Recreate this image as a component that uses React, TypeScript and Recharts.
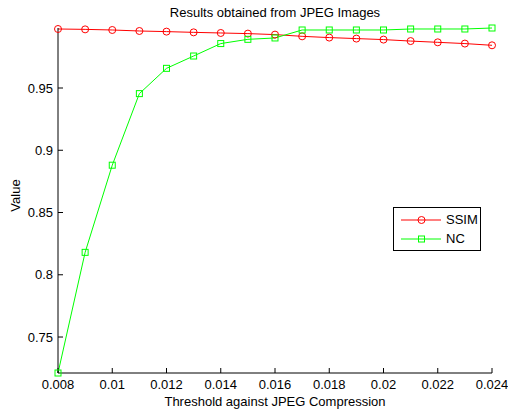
import * as React from 'react';
import { LineChart, Line, XAxis, YAxis } from 'recharts';

const thresholds = [0.008, 0.009, 0.01, 0.011, 0.012, 0.013, 0.014, 0.015, 0.016, 0.017, 0.018, 0.019, 0.02, 0.021, 0.022, 0.023, 0.024];
const ssimValues = [0.9974, 0.9971, 0.9966, 0.9958, 0.9953, 0.9947, 0.9942, 0.9937, 0.9929, 0.9915, 0.9905, 0.9897, 0.9889, 0.9877, 0.9867, 0.9857, 0.9843];
const ncValues = [0.7211, 0.818, 0.888, 0.9455, 0.9658, 0.9757, 0.9857, 0.9891, 0.9902, 0.9966, 0.9966, 0.9966, 0.9966, 0.9974, 0.9974, 0.9974, 0.9982];
const xTicks = [0.008, 0.01, 0.012, 0.014, 0.016, 0.018, 0.02, 0.022, 0.024];
const yTicks = [0.75, 0.8, 0.85, 0.9, 0.95];

const data = thresholds.map((x, i) => ({ x, SSIM: ssimValues[i], NC: ncValues[i] }));

const FONT = 'Liberation Sans, Arial, Helvetica, sans-serif';
const yDomain = [0.7211, 0.9982];

const CircleDot = (props: any) => {
    const { cx, cy } = props;
    if (cx == null || cy == null) return null;
    return <circle cx={cx} cy={cy} r={3.5} stroke="#ff0000" strokeWidth={1} fill="none" />;
};

const SquareDot = (props: any) => {
    const { cx, cy } = props;
    if (cx == null || cy == null) return null;
    return <rect x={cx - 3} y={cy - 3} width={6} height={6} stroke="#00ff00" strokeWidth={1} fill="none" />;
};

const legendItems = [
    { name: 'SSIM', color: '#ff0000', circle: true },
    { name: 'NC', color: '#00ff00', circle: false },
];

// legend drawn in html on top of the plot
const LegendBox = () => (
    <div style={{ position: 'absolute', left: 393, top: 207, width: 88, height: 44, border: '1px solid #000', background: '#fff', boxSizing: 'border-box', fontFamily: FONT, fontSize: 13 }}>
        {legendItems.map((it, i) => (
            <div key={it.name} style={{ position: 'absolute', left: 0, top: 5 + i * 19, height: 14, display: 'flex', alignItems: 'center' }}>
                <svg width={52} height={14} style={{ display: 'block' }}>
                    <line x1={7} x2={47} y1={7} y2={7} stroke={it.color} strokeWidth={1} />
                    {it.circle
                        ? <circle cx={27.5} cy={7} r={3.5} stroke={it.color} fill="none" />
                        : <rect x={24.5} y={4} width={6} height={6} stroke={it.color} fill="none" />}
                </svg>
                <span style={{ color: '#000', lineHeight: '14px' }}>{it.name}</span>
            </div>
        ))}
    </div>
);

const emptyTick = () => <g />;

export default function App() {
    return (
        <div style={{ position: 'fixed', left: 0, top: 0, width: 508, height: 411, overflow: 'hidden', background: '#fff' }}>
            <LineChart width={508} height={411} data={data} margin={{ top: 28, right: 16, bottom: 0, left: 0 }}>
                <XAxis
                    dataKey="x"
                    type="number"
                    domain={[0.008, 0.024]}
                    ticks={xTicks}
                    tickFormatter={(v: number) => String(v)}
                    height={38}
                    tickSize={-5}
                    tickMargin={12}
                    stroke="#000"
                    tick={{ fill: '#000', fontSize: 13, fontFamily: FONT }}
                />
                <XAxis
                    xAxisId="top"
                    orientation="top"
                    type="number"
                    domain={[0.008, 0.024]}
                    ticks={xTicks}
                    height={0}
                    tickSize={-5}
                    stroke="#000"
                    tick={emptyTick}
                />
                <YAxis
                    type="number"
                    domain={yDomain}
                    ticks={yTicks}
                    width={58}
                    tickSize={-5}
                    tickMargin={10}
                    stroke="#000"
                    tick={{ fill: '#000', fontSize: 13, fontFamily: FONT }}
                />
                <YAxis
                    yAxisId="right"
                    orientation="right"
                    type="number"
                    domain={yDomain}
                    ticks={yTicks}
                    width={0}
                    tickSize={-5}
                    stroke="#000"
                    tick={emptyTick}
                />
                <Line dataKey="SSIM" stroke="#ff0000" strokeWidth={1} dot={<CircleDot />} isAnimationActive={false} />
                <Line dataKey="NC" stroke="#00ff00" strokeWidth={1} dot={<SquareDot />} isAnimationActive={false} />
            </LineChart>
            <div style={{ position: 'absolute', left: 58, width: 434, top: 5, textAlign: 'center', fontFamily: FONT, fontSize: 13, lineHeight: '15px', whiteSpace: 'nowrap' }}>
                Results obtained from JPEG Images
            </div>
            <div style={{ position: 'absolute', left: 58, width: 434, top: 394, textAlign: 'center', fontFamily: FONT, fontSize: 13, lineHeight: '15px', whiteSpace: 'nowrap' }}>
                Threshold against JPEG Compression
            </div>
            <div style={{ position: 'absolute', left: -15, top: 188, width: 60, height: 15, textAlign: 'center', transform: 'rotate(-90deg)', fontFamily: FONT, fontSize: 13, lineHeight: '15px' }}>
                Value
            </div>
            <LegendBox />
        </div>
    );
}
